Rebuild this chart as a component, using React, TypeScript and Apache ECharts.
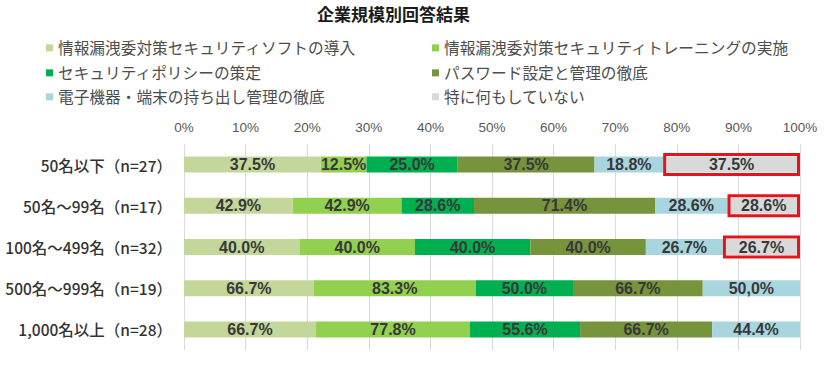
import React, { useEffect, useRef } from "react";
import * as echarts from "echarts";

const titleText = "企業規模別回答結果";
const categories = [
  "50名以下（n=27）",
  "50名～99名（n=17）",
  "100名～499名（n=32）",
  "500名～999名（n=19）",
  "1,000名以上（n=28）",
];
const seriesNames = [
  "情報漏洩委対策セキュリティソフトの導入",
  "情報漏洩委対策セキュリティトレーニングの実施",
  "セキュリティポリシーの策定",
  "パスワード設定と管理の徹底",
  "電子機器・端末の持ち出し管理の徹底",
  "特に何もしていない",
];
const softValues = [37.5, 42.9, 40.0, 66.7, 66.7];
const trainingValues = [12.5, 42.9, 40.0, 83.3, 77.8];
const policyValues = [25.0, 28.6, 40.0, 50.0, 55.6];
const passwordValues = [37.5, 71.4, 40.0, 66.7, 66.7];
const deviceValues = [18.8, 28.6, 26.7, 50.0, 44.4];
const nothingValues = [37.5, 28.6, 26.7, 0, 0];
// label text as printed in the source (row "500名～999名", device series uses a comma)
const labelOverrides: Record<string, string> = { "3-4": "50,0%" };
const highlightedRows = [0, 1, 2];
const xTicks = [0, 10, 20, 30, 40, 50, 60, 70, 80, 90, 100];

const colors = ["#c4d79b", "#92d050", "#00b050", "#77933c", "#a9d5de", "#d9d9d9"];

const allValues = [softValues, trainingValues, policyValues, passwordValues, deviceValues, nothingValues];

export default function App() {
  const ref = useRef<HTMLDivElement>(null);
  useEffect(() => {
    if (!ref.current) return;
    const chart = echarts.init(ref.current, null, { renderer: "svg" });
    const totals = categories.map((_, r) => allValues.reduce((s, arr) => s + arr[r], 0));
    const pct = allValues.map((arr) => arr.map((v, r) => (v / totals[r]) * 100));

    const barSeries = allValues.map((arr, si) => ({
      name: seriesNames[si],
      type: "bar",
      stack: "total",
      barWidth: 16,
      data: pct[si],
      itemStyle: { color: colors[si] },
      label: {
        show: true,
        position: "inside",
        fontFamily: "Liberation Sans, Arial, sans-serif",
        fontSize: 16,
        fontWeight: "bold",
        color: "#383838",
        formatter: (p: any) => {
          const raw = arr[p.dataIndex];
          if (!raw) return "";
          const key = `${p.dataIndex}-${si}`;
          return labelOverrides[key] ?? raw.toFixed(1) + "%";
        },
      },
    }));

    const boxData = highlightedRows.map((r) => {
      const start = pct.slice(0, 5).reduce((s, a) => s + a[r], 0);
      return [start, start + pct[5][r], r];
    });

    const legendPos = [
      { left: 46, top: 40 },
      { left: 432, top: 40 },
      { left: 46, top: 65 },
      { left: 432, top: 65 },
      { left: 46, top: 89 },
      { left: 432, top: 89 },
    ];

    chart.setOption({
      animation: false,
      backgroundColor: "#ffffff",
      title: {
        text: titleText,
        left: 317,
        top: 5,
        padding: 0,
        textStyle: {
          fontFamily: "Noto Sans CJK JP",
          fontSize: 17,
          fontWeight: "bold",
          color: "#1a1a1a",
        },
      },
      legend: seriesNames.map((n, i) => ({
        data: [n],
        left: legendPos[i].left,
        top: legendPos[i].top,
        padding: 0,
        icon: "rect",
        itemWidth: 7,
        itemHeight: 7,
        itemGap: 0,
        selectedMode: false,
        textStyle: {
          fontFamily: "Noto Sans CJK JP",
          fontSize: 15.7,
          color: "#4d4d4d",
          padding: [0, 0, 0, 0],
        },
      })),
      grid: { left: 184, right: 40, top: 144, bottom: 18, containLabel: false },
      xAxis: {
        type: "value",
        position: "top",
        min: xTicks[0],
        max: xTicks[xTicks.length - 1],
        interval: 10,
        axisLine: { show: false },
        axisTick: { show: false },
        axisLabel: {
          formatter: "{value}%",
          fontFamily: "Liberation Sans, Arial, sans-serif",
          fontSize: 13.5,
          color: "#595959",
          margin: 10,
        },
        splitLine: { show: true, lineStyle: { color: "#d9d9d9", width: 1 } },
      },
      yAxis: {
        type: "category",
        inverse: true,
        data: categories,
        axisLine: { show: false },
        axisTick: { show: false },
        axisLabel: {
          fontFamily: "Noto Sans CJK JP",
          fontSize: 15.5,
          fontWeight: 500,
          color: "#333333",
          margin: 12,
        },
      },
      series: [
        ...barSeries,
        {
          type: "custom",
          name: "highlight",
          z: 10,
          encode: { x: [0, 1], y: 2 },
          data: boxData,
          renderItem: (params: any, api: any) => {
            const s = api.coord([api.value(0), api.value(2)]);
            const e = api.coord([api.value(1), api.value(2)]);
            return {
              type: "rect",
              shape: { x: s[0] + 1.5, y: s[1] - 10, width: e[0] - s[0] - 3, height: 20 },
              style: { fill: "none", stroke: "#e3141b", lineWidth: 3 },
            };
          },
        },
      ],
    });
    return () => chart.dispose();
  }, []);
  return (
    <div
      ref={ref}
      style={{ position: "fixed", left: 0, top: 0, width: 840, height: 368, background: "#fff" }}
    />
  );
}
